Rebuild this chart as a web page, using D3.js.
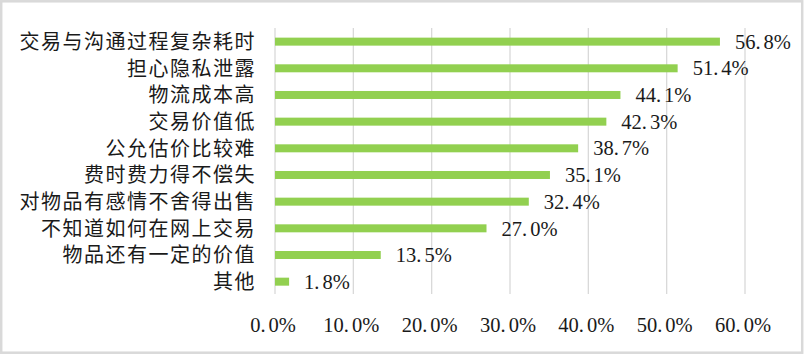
<!DOCTYPE html>
<html>
<head>
<meta charset="utf-8">
<script src="https://cdn.jsdelivr.net/npm/d3@7"></script>
<style>
  html, body { margin: 0; padding: 0; background: #fff; }
  svg { display: block; }
</style>
</head>
<body>
<div id="chart"></div>
<script>
const categories = ['交易与沟通过程复杂耗时', '担心隐私泄露', '物流成本高', '交易价值低', '公允估价比较难',
  '费时费力得不偿失', '对物品有感情不舍得出售', '不知道如何在网上交易', '物品还有一定的价值', '其他'];
const values = [56.8, 51.4, 44.1, 42.3, 38.7, 35.1, 32.4, 27.0, 13.5, 1.8];
const ticks = [0, 10, 20, 30, 40, 50, 60];

const W = 804, H = 354;
const CJK = '"Noto Sans CJK SC", "Noto Sans CJK JP", sans-serif';
const NUM = '"Liberation Serif", "DejaVu Serif", serif';
const GRID = '#d9d9d9', BAR = '#92d050', TXT = '#1a1a1a';

const svg = d3.select('#chart').append('svg').attr('width', W).attr('height', H);
svg.append('rect').attr('x', 1.2).attr('y', 1.3).attr('width', 801).attr('height', 351.4)
  .attr('fill', '#fff').attr('stroke', GRID).attr('stroke-width', 2.5);

const x = d3.scaleLinear().domain([0, 60]).range([275, 745]);
const y = d3.scaleBand().domain(categories).range([28.3, 295]).paddingInner(0.7).paddingOuter(0.35);

// "56.8%" drawn as "56." + gap + "8%" to mimic the wide full-stop of the original font
function pct(sel) {
  sel.each(function (d) {
    const [a, b] = d.toFixed(1).split('.');
    const t = d3.select(this);
    t.append('tspan').text(a + '.');
    t.append('tspan').attr('dx', 3).text(b + '%');
  });
}

// vertical gridlines
svg.append('g').selectAll('line').data(ticks).join('line')
  .attr('x1', d => x(d)).attr('x2', d => x(d)).attr('y1', 28).attr('y2', 294)
  .attr('stroke', GRID).attr('stroke-width', 1.3);

// x tick labels
svg.append('g').selectAll('text').data(ticks).join('text')
  .attr('x', d => x(d) - 2).attr('y', 332)
  .attr('text-anchor', 'middle')
  .attr('font-family', NUM).attr('font-size', 20.5).attr('fill', TXT)
  .call(pct);

// bars
svg.append('g').selectAll('rect').data(values).join('rect')
  .attr('x', x(0)).attr('y', (d, i) => y(categories[i]))
  .attr('width', d => x(d) - x(0)).attr('height', y.bandwidth())
  .attr('fill', BAR);

// value labels
svg.append('g').selectAll('text').data(values).join('text')
  .attr('x', d => x(d) + 15).attr('y', (d, i) => y(categories[i]) + y.bandwidth() / 2)
  .attr('dy', '0.35em')
  .attr('font-family', NUM).attr('font-size', 20.5).attr('fill', TXT)
  .call(pct);

// category labels
svg.append('g').selectAll('text').data(categories).join('text')
  .attr('x', 256).attr('y', d => y(d) + y.bandwidth() / 2)
  .attr('dy', '0.36em')
  .attr('text-anchor', 'end')
  .attr('font-family', CJK).attr('font-size', 20).attr('letter-spacing', 1.5)
  .attr('fill', TXT)
  .text(d => d);
</script>
</body>
</html>
